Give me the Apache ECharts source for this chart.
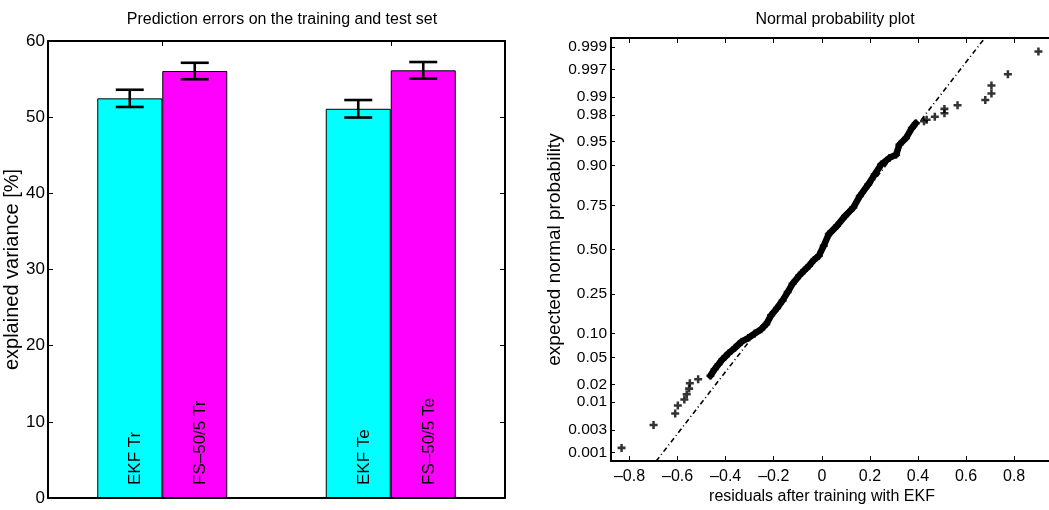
<!DOCTYPE html>
<html>
<head>
<meta charset="utf-8">
<script src="https://cdn.jsdelivr.net/npm/echarts@6/dist/echarts.min.js"></script>
<style>html,body{margin:0;padding:0;background:#fff}#c{width:1049px;height:510px}</style>
</head>
<body>
<div id="c"></div>
<script>
// ---------- Left panel data ----------
const groups = ['Tr', 'Te'];
const ekfValues = [52.47, 51.1];
const fsValues = [56.06, 56.15];
const ekfErr = [1.13, 1.15];
const fsErr = [1.08, 1.09];
const ekfLabels = ['EKF Tr', 'EKF Te'];
const fsLabels = ['FS\u201350/5 Tr', 'FS\u201350/5 Te'];

// ---------- Right panel data (residual, expected normal probability) ----------
const residLow = [-0.833, -0.700, -0.610, -0.599, -0.572, -0.562, -0.552, -0.549, -0.5145];
const probLow = [0.00125, 0.00375, 0.0062, 0.0087, 0.0111, 0.0137, 0.0170, 0.0208, 0.0240];
const residDense = [-0.4636, -0.446, -0.4295, -0.413, -0.3885, -0.361, -0.334, -0.3065, -0.279, -0.252,
  -0.231, -0.211, -0.186, -0.163, -0.142, -0.122, -0.094, -0.074, -0.053, -0.033,
  -0.012, 0.008, 0.029, 0.063, 0.097, 0.131, 0.158, 0.193, 0.220, 0.247,
  0.281, 0.309, 0.3225, 0.350, 0.3745, 0.391];
const probDense = [0.0272, 0.0339, 0.0401, 0.0471, 0.0567, 0.0672, 0.0799, 0.0888, 0.1003, 0.1122,
  0.128, 0.158, 0.1865, 0.219, 0.2585, 0.3005, 0.3457, 0.374, 0.403, 0.437,
  0.4626, 0.523, 0.593, 0.641, 0.696, 0.739, 0.7925, 0.8394, 0.8737, 0.9024,
  0.9188, 0.926, 0.945, 0.9554, 0.968, 0.973];
const residHigh = [0.425, 0.436, 0.470, 0.510, 0.510, 0.5645, 0.680, 0.7056, 0.7056, 0.774, 0.901];
const probHigh = [0.9747, 0.976, 0.9785, 0.9812, 0.9840, 0.9861, 0.9887, 0.9913, 0.9938, 0.99625, 0.99873];
const refLineX = [-0.689, 0.678];
const refLineP = [0.00063, 0.99937];

const xTicks = [-0.8, -0.6, -0.4, -0.2, 0, 0.2, 0.4, 0.6, 0.8];
const xTickLabels = ['\u20130.8', '\u20130.6', '\u20130.4', '\u20130.2', '0', '0.2', '0.4', '0.6', '0.8'];
const yTickProbs = [0.001, 0.003, 0.01, 0.02, 0.05, 0.10, 0.25, 0.50, 0.75, 0.90, 0.95, 0.98, 0.99, 0.997, 0.999];
const yTickLabels = ['0.001', '0.003', '0.01', '0.02', '0.05', '0.10', '0.25', '0.50', '0.75', '0.90', '0.95', '0.98', '0.99', '0.997', '0.999'];
const xLim = [-0.877, 0.945];
const yLimP = [0.00063, 0.99937];

// inverse standard normal CDF (probability-paper scale)
function norminv(p) {
  const a=[-3.969683028665376e+01,2.209460984245205e+02,-2.759285104469687e+02,1.383577518672690e+02,-3.066479806614716e+01,2.506628277459239e+00];
  const b=[-5.447609879822406e+01,1.615858368580409e+02,-1.556989798598866e+02,6.680131188771972e+01,-1.328068155288572e+01];
  const c=[-7.784894002430293e-03,-3.223964580411365e-01,-2.400758276161838e+00,-2.549732539343734e+00,4.374664141464968e+00,2.938163982698783e+00];
  const d=[7.784695709041462e-03,3.224671290700398e-01,2.445134137142996e+00,3.754408661907416e+00];
  const pl=0.02425, ph=1-pl; let q, r;
  if (p < pl) { q=Math.sqrt(-2*Math.log(p)); return (((((c[0]*q+c[1])*q+c[2])*q+c[3])*q+c[4])*q+c[5])/((((d[0]*q+d[1])*q+d[2])*q+d[3])*q+1); }
  if (p <= ph) { q=p-0.5; r=q*q; return (((((a[0]*r+a[1])*r+a[2])*r+a[3])*r+a[4])*r+a[5])*q/(((((b[0]*r+b[1])*r+b[2])*r+b[3])*r+b[4])*r+1); }
  q=Math.sqrt(-2*Math.log(1-p)); return -(((((c[0]*q+c[1])*q+c[2])*q+c[3])*q+c[4])*q+c[5])/((((d[0]*q+d[1])*q+d[2])*q+d[3])*q+1);
}
const yTickZ = yTickProbs.map(norminv);
const pairs = (xs, ps) => xs.map((x, i) => [x, norminv(ps[i])]);
const densePts = pairs(residDense, probDense);
const allPts = pairs(residLow, probLow).concat(densePts, pairs(residHigh, probHigh));
const refPts = pairs(refLineX, refLineP);

const FONT = '"Liberation Sans", Arial, Helvetica, sans-serif';
const BAR_W = 65;
const AX = { show: true, onZero: false, lineStyle: { color: '#000', width: 2 } };
const plusPath = 'path://M2.4,0H4.6V2.4H7V4.6H4.6V7H2.4V4.6H0V2.4H2.4Z';

const errData = [];
for (let i = 0; i < groups.length; i++) {
  errData.push([i, ekfValues[i] - ekfErr[i], ekfValues[i] + ekfErr[i], -1]);
  errData.push([i, fsValues[i] - fsErr[i], fsValues[i] + fsErr[i], 1]);
}

const barLabel = (labels) => ({
  show: true, position: 'insideBottom', rotate: 90, align: 'left', verticalAlign: 'middle',
  distance: 13, offset: [0, 6], fontSize: 17, fontFamily: FONT, color: '#000',
  formatter: (p) => labels[p.dataIndex]
});

const option = {
  animation: false,
  backgroundColor: '#fff',
  textStyle: { fontFamily: FONT },
  title: [
    { text: 'Prediction errors on the training and test set', left: 277, top: 7, textAlign: 'center',
      textStyle: { fontSize: 16, fontWeight: 'normal', color: '#000', fontFamily: FONT } },
    { text: 'Normal probability plot', left: 830, top: 7, textAlign: 'center',
      textStyle: { fontSize: 16, fontWeight: 'normal', color: '#000', fontFamily: FONT } }
  ],
  grid: [
    { left: 48, right: 544, top: 41, bottom: 12, containLabel: false },
    { left: 611, right: -6, top: 38, bottom: 47, containLabel: false }
  ],
  xAxis: [
    { type: 'category', gridIndex: 0, data: groups, position: 'bottom', axisLine: AX,
      axisTick: { show: false }, axisLabel: { show: false }, splitLine: { show: false } },
    { type: 'category', gridIndex: 0, data: groups, position: 'top', axisLine: AX,
      axisTick: { show: true, inside: true, alignWithLabel: true, length: 5, lineStyle: { color: '#000', width: 1 } },
      axisLabel: { show: false }, splitLine: { show: false } },
    { type: 'value', gridIndex: 1, min: xLim[0], max: xLim[1], position: 'bottom', axisLine: AX,
      axisTick: { show: true, inside: true, length: 5, customValues: xTicks, lineStyle: { color: '#000', width: 1 } },
      axisLabel: { show: true, customValues: xTicks, margin: 7, fontSize: 16, color: '#000', fontFamily: FONT,
        formatter: (v) => { const i = xTicks.findIndex(t => Math.abs(t - v) < 1e-9); return i >= 0 ? xTickLabels[i] : ''; } },
      splitLine: { show: false },
      name: 'residuals after training with EKF', nameLocation: 'middle', nameGap: 20,
      nameTextStyle: { fontSize: 16, color: '#000', fontFamily: FONT, padding: [0, 16, 0, 0] } },
    { type: 'value', gridIndex: 1, min: xLim[0], max: xLim[1], position: 'top', axisLine: AX,
      axisTick: { show: true, inside: true, length: 5, customValues: xTicks, lineStyle: { color: '#000', width: 1 } },
      axisLabel: { show: false }, splitLine: { show: false } }
  ],
  yAxis: [
    { type: 'value', gridIndex: 0, min: 0, max: 60, interval: 10, position: 'left', axisLine: AX,
      axisTick: { show: true, inside: true, length: 5, lineStyle: { color: '#000', width: 1 } },
      axisLabel: { show: true, margin: 3, fontSize: 17, color: '#000', fontFamily: FONT },
      splitLine: { show: false },
      name: 'explained variance [%]', nameLocation: 'middle', nameGap: 20,
      nameTextStyle: { fontSize: 20, color: '#000', fontFamily: FONT } },
    { type: 'value', gridIndex: 0, min: 0, max: 60, interval: 10, position: 'right', axisLine: AX,
      axisTick: { show: true, inside: true, length: 5, lineStyle: { color: '#000', width: 1 } },
      axisLabel: { show: false }, splitLine: { show: false } },
    { type: 'value', gridIndex: 1, min: norminv(yLimP[0]), max: norminv(yLimP[1]), position: 'left', axisLine: AX,
      axisTick: { show: true, inside: true, length: 4, customValues: yTickZ, lineStyle: { color: '#000', width: 1 } },
      axisLabel: { show: true, customValues: yTickZ, margin: 4, fontSize: 15.5, color: '#000', fontFamily: FONT,
        formatter: (v) => { const i = yTickZ.findIndex(t => Math.abs(t - v) < 1e-9); return i >= 0 ? yTickLabels[i] : ''; } },
      splitLine: { show: false },
      name: 'expected normal probability', nameLocation: 'middle', nameGap: 43,
      nameTextStyle: { fontSize: 19, color: '#000', fontFamily: FONT } }
  ],
  series: [
    { type: 'bar', xAxisIndex: 0, yAxisIndex: 0, data: ekfValues, barWidth: BAR_W, barGap: '0%',
      itemStyle: { color: '#00ffff', borderColor: '#000', borderWidth: 1 }, label: barLabel(ekfLabels) },
    { type: 'bar', xAxisIndex: 0, yAxisIndex: 0, data: fsValues, barWidth: BAR_W, barGap: '0%',
      itemStyle: { color: '#ff00ff', borderColor: '#000', borderWidth: 1 }, label: barLabel(fsLabels) },
    { type: 'custom', xAxisIndex: 0, yAxisIndex: 0, data: errData, z: 10,
      renderItem: (params, api) => {
        const lo = api.coord([api.value(0), api.value(1)]);
        const hi = api.coord([api.value(0), api.value(2)]);
        const x = lo[0] + api.value(3) * BAR_W / 2;
        const cap = 14;
        const st = { stroke: '#000', lineWidth: 2.6 };
        return { type: 'group', children: [
          { type: 'line', shape: { x1: x, y1: lo[1], x2: x, y2: hi[1] }, style: st },
          { type: 'line', shape: { x1: x - cap, y1: lo[1], x2: x + cap, y2: lo[1] }, style: st },
          { type: 'line', shape: { x1: x - cap, y1: hi[1], x2: x + cap, y2: hi[1] }, style: st }
        ] };
      } },
    { type: 'line', xAxisIndex: 2, yAxisIndex: 2, data: refPts, symbol: 'none',
      lineStyle: { color: '#000', width: 1.6, type: [5, 3, 1, 3] } },
    { type: 'line', xAxisIndex: 2, yAxisIndex: 2, data: densePts, symbol: 'none', smooth: false,
      lineStyle: { color: '#000', width: 6.5, cap: 'round', join: 'round' } },
    { type: 'scatter', xAxisIndex: 2, yAxisIndex: 2, data: allPts, symbol: plusPath, symbolSize: 8,
      itemStyle: { color: '#000' }, clip: false }
  ]
};
const chart = echarts.init(document.getElementById('c'), null, { renderer: 'canvas' });
chart.setOption(option);
</script>
</body>
</html>
